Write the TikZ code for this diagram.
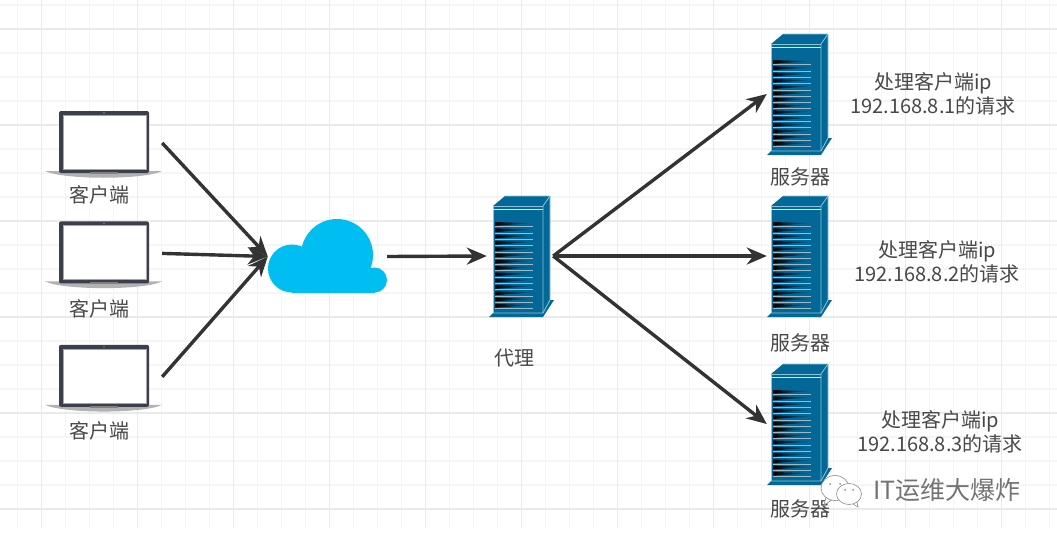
\documentclass[tikz,border=0pt]{standalone}
\usepackage{fontspec}
\setmainfont{Noto Sans CJK SC}
\usetikzlibrary{positioning, arrows.meta}
\definecolor{gridminor}{HTML}{F5F5F5}
\definecolor{gridmajor}{HTML}{EAEAEA}
\definecolor{serverblue}{HTML}{036897}
\definecolor{serverline}{HTML}{8CC3DA}
\definecolor{slotline}{HTML}{9DB8C6}
\definecolor{cloudblue}{HTML}{00BEF2}
\definecolor{bezel}{HTML}{3A3F4B}
\definecolor{inktext}{HTML}{484848}
\definecolor{linkgray}{HTML}{333333}
\tikzset{
  slotbox/.style={inner sep=0pt, minimum width=66pt, minimum height=122pt},
  clientbox/.style={inner sep=0pt, minimum width=116pt, minimum height=63pt},
  cloudbox/.style={inner sep=0pt, minimum width=119pt, minimum height=74pt},
  lbl/.style={inner sep=0pt, text=inktext, font=\fontsize{20}{24}\selectfont, align=center},
  link/.style={-{Stealth[length=20pt,width=17pt]}, line width=3.4pt, draw=linkgray},
  laptop/.pic={
    \path[fill=black!30] (-59,28) -- (58,28) .. controls (40,37) and (-40,37) .. (-59,28) -- cycle;
    \path[fill=bezel, rounded corners=2pt] (-45,-32) rectangle (45,30);
    \path[fill=white, draw=black!35, line width=.5pt] (-41,-28) rectangle (42,26);
    \path[fill=black!50] (-14,29) rectangle (14,31);
    \path[fill=black!45] (0,-30) circle (.8);
  },
  server/.pic={
    \path[fill=serverblue] (-27,-50) -- (-15,-60) -- (30,-60) -- (30,44) -- (34,44)
      -- (23,61) -- (-31,61) -- (-27,57) -- cycle;
    \draw[serverline, line width=.8pt] (-15,-60) -- (30,-60) -- (30,44) -- (23,57);
    \draw[serverline, line width=.8pt] (30,-60) -- (23,-50) -- (23,57) -- (-27,57);
    \draw[serverline, line width=.5pt] (-27,57) -- (-27,-50) -- (23,-50);
    \draw[white!85!serverblue, line width=1.2pt] (-27,-46.5) -- (23,-46.5);
    \foreach \row in {0,...,13} {
      \draw[slotline, line width=.8pt] (-25,-29.3+6.3*\row) -- (13,-29.3+6.3*\row);
      \shade[left color=black, middle color=black!75!serverblue, right color=serverblue]
        (-25,-34+6.3*\row) -- (13,-32.8+6.3*\row) -- (-25,-30.2+6.3*\row) -- cycle;
    }
  }
}
\begin{document}
\begin{tikzpicture}[x=1pt, y=-1pt]
  \useasboundingbox (0,0) rectangle (1057,538);
  \fill[white] (0,0) rectangle (1057,538);
  % background grid
  \foreach \k in {0,...,43} \draw[gridminor, line width=1.2pt] (17.5+24*\k,0) -- (17.5+24*\k,528);
  \foreach \k in {0,...,21} \draw[gridminor, line width=1.2pt] (0,5+24*\k) -- (1057,5+24*\k);
  \foreach \k in {0,...,10} \draw[gridmajor, line width=1.2pt] (41.5+96*\k,0) -- (41.5+96*\k,528);
  \foreach \k in {0,...,5} \draw[gridmajor, line width=1.2pt] (0,29+96*\k) -- (1057,29+96*\k);

  % clients
  \node[clientbox] (client1) at (104,143) {};
  \node[clientbox, below=47pt of client1] (client2) {};
  \node[clientbox, below=60pt of client2] (client3) {};
  \foreach \c in {client1,client2,client3} \pic at (\c) {laptop};
  \node[lbl] (clientlbl1) at (99,195) {客户端};
  \node[lbl] (clientlbl2) at (99,309) {客户端};
  \node[lbl] (clientlbl3) at (99,431) {客户端};

  % cloud
  \node[cloudbox] (cloud) at (327.5,256.5) {};
  \fill[cloudblue] (292,268.5) circle (24);
  \fill[cloudblue] (337,255) circle (36);
  \fill[cloudblue] (374.5,280) circle (12.5);
  \fill[cloudblue] (292,268) rectangle (374.5,292.5);

  % proxy and servers
  \node[slotbox] (proxy) at (520,256) {};
  \node[slotbox] (server1) at (798,94) {};
  \node[slotbox] (server2) at (798,256) {};
  \node[slotbox] (server3) at (798,424) {};
  \foreach \c in {proxy,server1,server2,server3} \pic at (\c) {server};
  \node[lbl] (proxylbl) at (514,358) {代理};
  \node[lbl] (serverlbl1) at (800,177) {服务器};
  \node[lbl] (serverlbl2) at (800,343) {服务器};
  \node[lbl] (serverlbl3) at (800,509) {服务器};
  \node[lbl] (note1) at (933,94) {处理客户端ip\\192.168.8.1的请求};
  \node[lbl] (note2) at (937,262) {处理客户端ip\\192.168.8.2的请求};
  \node[lbl] (note3) at (940,432) {处理客户端ip\\192.168.8.3的请求};

  % links
  \draw[link] (client1.east) -- (cloud.west);
  \draw[link] (client2.east) -- (cloud.west);
  \draw[link] (client3.east) -- (cloud.west);
  \draw[link] (cloud.east) -- (proxy.west);
  \draw[link] (proxy.east) -- ([xshift=2pt]server1.west);
  \draw[link] (proxy.east) -- ([xshift=2pt]server2.west);
  \draw[link] (proxy.east) -- ([xshift=2pt]server3.west);

  % watermark
  \draw[black!45, fill=white, line width=.6pt] (835,488) ellipse (14 and 12.5)
    (826,497) -- (824,505) -- (832,500);
  \draw[black!45, fill=white, line width=.6pt] (849,494) ellipse (12.5 and 10.5)
    (853,504) -- (858,507) -- (857,502);
  \fill[black!45] (830,484) circle (1) (840,484) circle (1) (845,490) circle (1) (853,490) circle (1);
  \node[inner sep=0pt, text=black!55, font=\fontsize{25}{30}\selectfont] (mark) at (947,490) {IT运维大爆炸};
\end{tikzpicture}
\end{document}
